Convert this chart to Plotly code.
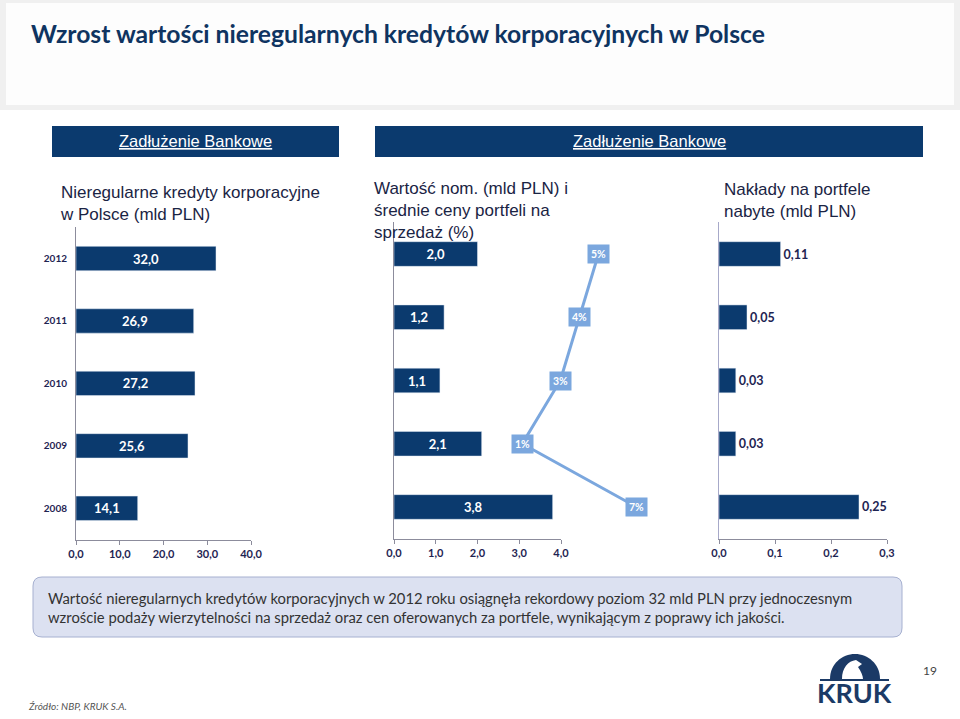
import plotly.graph_objects as go

# ---------------- data ----------------
years = ["2012", "2011", "2010", "2009", "2008"]
npl_corporate = [32.0, 26.9, 27.2, 25.6, 14.1]          # mld PLN
portfolio_nominal = [2.0, 1.2, 1.1, 2.1, 3.8]           # mld PLN
portfolio_price_pct = [5, 4, 3, 1, 7]                   # %
purchase_spend = [0.11, 0.05, 0.03, 0.03, 0.25]         # mld PLN

left_ticks = [0, 10, 20, 30, 40]
mid_ticks = [0, 1, 2, 3, 4]
right_ticks = [0, 0.1, 0.2, 0.3]

title_text = "Wzrost wartości nieregularnych kredytów korporacyjnych w Polsce"
header_text = "Zadłużenie Bankowe"
panel_titles = [
    "Nieregularne kredyty korporacyjne<br>w Polsce (mld PLN)",
    "Wartość nom. (mld PLN) i<br>średnie ceny portfeli na<br>sprzedaż (%)",
    "Nakłady na portfele<br>nabyte (mld PLN)",
]
note_text = ("Wartość nieregularnych kredytów korporacyjnych w 2012 roku osiągnęła rekordowy poziom 32 mld PLN przy jednoczesnym<br>"
             "wzroście podaży wierzytelności na sprzedaż oraz cen oferowanych za portfele, wynikającym z poprawy ich jakości.")
source_text = "Źródło: NBP, KRUK S.A."
page_no = "19"

# ---------------- helpers ----------------
W, H = 960, 719
def px(x):
    return x / W
def py(y):
    return 1 - y / H

def fmt(v, d):
    return f"{v:.{d}f}".replace(".", ",")

NAVY = "#0B3A6E"
LINE_BLUE = "#7BA7DE"
TXT_DARK = "#1E2452"
AXIS_GRAY = "#8C8C9C"

fig = go.Figure()

# left bars
fig.add_trace(go.Bar(
    x=npl_corporate, y=years, orientation="h", xaxis="x", yaxis="y",
    marker=dict(color=NAVY), text=[fmt(v, 1) for v in npl_corporate],
    textposition="inside", insidetextanchor="middle",
    textfont=dict(color="white", size=13, family="Lato", weight="bold"),
    hoverinfo="skip", showlegend=False))

# middle bars
fig.add_trace(go.Bar(
    x=portfolio_nominal, y=years, orientation="h", xaxis="x2", yaxis="y2",
    marker=dict(color=NAVY), text=[fmt(v, 1) for v in portfolio_nominal],
    textposition="inside", insidetextanchor="middle",
    textfont=dict(color="white", size=13, family="Lato", weight="bold"),
    hoverinfo="skip", showlegend=False))

# right bars
fig.add_trace(go.Bar(
    x=purchase_spend, y=years, orientation="h", xaxis="x3", yaxis="y3",
    marker=dict(color=NAVY), text=[fmt(v, 2) for v in purchase_spend],
    textposition="outside", cliponaxis=False,
    textfont=dict(color=TXT_DARK, size=12.5, family="Lato", weight="bold"),
    hoverinfo="skip", showlegend=False))

# price line (secondary axis over the middle panel)
fig.add_trace(go.Scatter(
    x=portfolio_price_pct, y=years, xaxis="x4", yaxis="y4", mode="lines",
    line=dict(color=LINE_BLUE, width=3), hoverinfo="skip", showlegend=False,
    cliponaxis=False))

ydom_left = [py(539.5), py(227.3)]
ydom_mid = [py(538.6), py(222.4)]
yrange = [4.5, -0.5]
tickfont = dict(family="Lato", size=11, color=TXT_DARK, weight="bold")

def xaxis(dom, rng, ticks, dec, anchor):
    return dict(domain=dom, range=rng, anchor=anchor, tickvals=ticks,
                ticktext=[fmt(t, dec) for t in ticks], showgrid=False, zeroline=False,
                showline=True, linecolor=AXIS_GRAY, linewidth=1, ticks="outside",
                ticklen=4, tickcolor=AXIS_GRAY, tickfont=tickfont, fixedrange=True,
                automargin=False)

def yaxis(dom, anchor, show_labels, color=AXIS_GRAY):
    return dict(domain=dom, range=yrange, type="category", categoryorder="array",
                categoryarray=years,
                anchor=anchor, showgrid=False, zeroline=False, showline=True,
                linecolor=color, linewidth=1, ticks="",
                showticklabels=show_labels,
                tickfont=dict(family="Lato", size=10, color=TXT_DARK, weight="bold"),
                ticklabelstandoff=6, fixedrange=True, automargin=False)

# line axis mapping (px = 503.2 + 19.05 * pct)
lx0, lx1 = 394, 660
lrange = [(lx0 - 503.2) / 19.05, (lx1 - 503.2) / 19.05]

hidden = dict(showline=False, showgrid=False, zeroline=False, showticklabels=False,
              ticks="", fixedrange=True, automargin=False)

fig.update_layout(
    width=W, height=H, autosize=False,
    margin=dict(l=0, r=0, t=0, b=0, pad=0),
    paper_bgcolor="white", plot_bgcolor="rgba(0,0,0,0)",
    bargap=0.61, showlegend=False,
    xaxis=xaxis([px(76), px(251)], [0, 40], left_ticks, 1, "y"),
    yaxis=yaxis(ydom_left, "x", True),
    xaxis2=xaxis([px(394), px(561)], [0, 4], mid_ticks, 1, "y2"),
    yaxis2=yaxis(ydom_mid, "x2", False),
    xaxis3=xaxis([px(719), px(887)], [0, 0.3], right_ticks, 1, "y3"),
    yaxis3=yaxis(ydom_mid, "x3", False, "#A7A9C9"),
    xaxis4=dict(domain=[px(lx0), px(lx1)], range=lrange, anchor="y4", **hidden),
    yaxis4=dict(domain=ydom_mid, range=yrange, type="category", categoryorder="array",
                categoryarray=years, anchor="x4", **hidden),
)

shapes = []
annotations = []

# title band
shapes.append(dict(type="rect", xref="paper", yref="paper", x0=px(0), x1=px(960),
                   y0=py(110), y1=py(0), fillcolor="#F0F0F0", line=dict(width=0), layer="below"))
shapes.append(dict(type="rect", xref="paper", yref="paper", x0=px(6), x1=px(954),
                   y0=py(105), y1=py(3), fillcolor="#FDFDFD", line=dict(width=0), layer="below"))
annotations.append(dict(text=f"<b>{title_text}</b>", xref="paper", yref="paper",
                        x=px(29), y=py(33), xanchor="left", yanchor="middle", showarrow=False,
                        font=dict(family="Lato", size=24.7, color="#0F3461")))

# header boxes
for x0, x1, cx in [(52, 339, 195), (375, 923, 649)]:
    shapes.append(dict(type="rect", xref="paper", yref="paper", x0=px(x0), x1=px(x1),
                       y0=py(157), y1=py(126), fillcolor=NAVY, line=dict(width=0)))
    annotations.append(dict(text=f"<u>{header_text}</u>", xref="paper", yref="paper",
                            x=px(cx), y=py(141.5),
                            xanchor="center", yanchor="middle", showarrow=False,
                            font=dict(family="Liberation Sans, Arial", size=16.5, color="white")))

# panel titles
for (x, ytop), t in zip([(58, 181), (372, 177), (722, 178)], panel_titles):
    annotations.append(dict(text=t, xref="paper", yref="paper", x=px(x), y=py(ytop),
                            xanchor="left", yanchor="top", align="left", showarrow=False,
                            font=dict(family="Liberation Sans, Arial", size=17, color="#1A2444")))

# line labels (category index on the y axis)
for i, p in enumerate(portfolio_price_pct):
    annotations.append(dict(text=f"<b>{p}%</b>", xref="x4", yref="y4", x=p, y=i,
                            showarrow=False, bgcolor=LINE_BLUE, borderpad=3,
                            font=dict(family="Lato", size=10.5, color="white")))

# note box (rounded)
bx0, bx1, by0, by1, r = 33, 902, 577, 637, 9
path = (f"M {px(bx0 + r)},{py(by0)} L {px(bx1 - r)},{py(by0)} "
        f"Q {px(bx1)},{py(by0)} {px(bx1)},{py(by0 + r)} "
        f"L {px(bx1)},{py(by1 - r)} Q {px(bx1)},{py(by1)} {px(bx1 - r)},{py(by1)} "
        f"L {px(bx0 + r)},{py(by1)} Q {px(bx0)},{py(by1)} {px(bx0)},{py(by1 - r)} "
        f"L {px(bx0)},{py(by0 + r)} Q {px(bx0)},{py(by0)} {px(bx0 + r)},{py(by0)} Z")
shapes.append(dict(type="path", xref="paper", yref="paper", path=path,
                   fillcolor="#DCE1F1", line=dict(color="#A6B0D0", width=1)))
annotations.append(dict(text=note_text, xref="paper", yref="paper", x=px(46), y=py(607),
                        xanchor="left", yanchor="middle", align="left", showarrow=False,
                        font=dict(family="Lato", size=14.8, color="#333333")))

# footer
annotations.append(dict(text=f"<i>{source_text}</i>", xref="paper", yref="paper",
                        x=px(26), y=py(706), xanchor="left", yanchor="middle", showarrow=False,
                        font=dict(family="Lato", size=10, color="#555555")))
annotations.append(dict(text=page_no, xref="paper", yref="paper", x=px(930), y=py(670),
                        xanchor="center", yanchor="middle", showarrow=False,
                        font=dict(family="Lato", size=12, color="#444444")))

# KRUK logo (approximation)
dome = (f"M {px(830)},{py(679)} C {px(830)},{py(664)} {px(842)},{py(654)} {px(855)},{py(654)} "
        f"C {px(868)},{py(654)} {px(880)},{py(664)} {px(880)},{py(679)} Z")
shapes.append(dict(type="path", xref="paper", yref="paper", path=dome,
                   fillcolor="#1B3A66", line=dict(width=0)))
bird = (f"M {px(842)},{py(679)} C {px(842)},{py(668)} {px(848)},{py(661)} {px(856)},{py(660)} "
        f"L {px(862)},{py(664)} L {px(858)},{py(667)} C {px(861)},{py(671)} {px(863)},{py(676)} {px(863)},{py(679)} Z")
shapes.append(dict(type="path", xref="paper", yref="paper", path=bird,
                   fillcolor="white", line=dict(width=0)))
shapes.append(dict(type="line", xref="paper", yref="paper", x0=px(820), x1=px(889),
                   y0=py(680), y1=py(680), line=dict(color="#1B3A66", width=2)))
annotations.append(dict(text="<b>KRUK</b>", xref="paper", yref="paper", x=px(854.5), y=py(692),
                        xanchor="center", yanchor="middle", showarrow=False,
                        font=dict(family="Lato", size=27, color="#1B3A66")))

fig.update_layout(shapes=shapes, annotations=annotations)

fig.write_html("out.html", config={"responsive": False, "displayModeBar": False},
               post_script="document.body.style.margin='0px';document.body.style.overflow='hidden';")
